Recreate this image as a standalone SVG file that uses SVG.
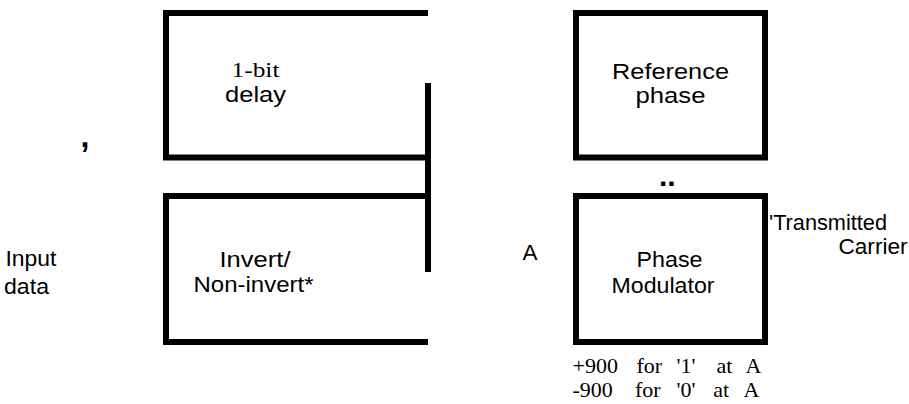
<svg xmlns="http://www.w3.org/2000/svg" width="909" height="404" viewBox="0 0 909 404">
<style>
.box{fill:none;stroke:#000;stroke-width:6;stroke-linejoin:miter;stroke-linecap:butt}
.wire{fill:none;stroke:#000;stroke-width:6;stroke-linecap:butt}
.sans{font-family:"Liberation Sans",Arial,sans-serif;font-size:22px;fill:#000}
.serif{font-family:"Liberation Serif","Times New Roman",serif;font-size:22px;fill:#000}
.mark{font-family:"Liberation Sans",Arial,sans-serif;font-weight:bold;fill:#000}
</style>
<rect width="909" height="404" fill="#fff"/>
<g id="delay">
<path class="box" d="M428,13 H166 V157.5 H431"/>
<text class="serif" x="231.5" y="77.3" font-size="23" textLength="48" lengthAdjust="spacingAndGlyphs">1-bit</text>
<text class="sans" x="225" y="101.7" textLength="61" lengthAdjust="spacingAndGlyphs">delay</text>
</g>
<g id="invert">
<path class="box" d="M431,196 H166 V342 H428"/>
<text class="sans" x="219.5" y="267.3" textLength="71" lengthAdjust="spacingAndGlyphs">Invert/</text>
<text class="sans" x="193.5" y="291.7" textLength="120" lengthAdjust="spacingAndGlyphs">Non-invert*</text>
</g>
<g id="reference">
<rect class="box" x="576" y="13" width="189" height="144.5"/>
<text class="sans" x="612" y="79" textLength="117" lengthAdjust="spacingAndGlyphs">Reference</text>
<text class="sans" x="635.5" y="103.3" textLength="70" lengthAdjust="spacingAndGlyphs">phase</text>
</g>
<g id="modulator">
<rect class="box" x="576" y="196" width="189" height="146"/>
<text class="sans" x="636.5" y="267.3" textLength="66" lengthAdjust="spacingAndGlyphs">Phase</text>
<text class="sans" x="611.5" y="292.7" textLength="103" lengthAdjust="spacingAndGlyphs">Modulator</text>
</g>
<g id="connectors">
<path class="wire" d="M428,83 V272"/>
</g>
<g id="labels">
<text class="mark" x="80.5" y="147" font-size="32">,</text>
<text class="mark" x="659" y="186" font-size="30">..</text>
<text class="sans" x="5.5" y="266" textLength="51" lengthAdjust="spacingAndGlyphs">Input</text>
<text class="sans" x="4" y="294" textLength="45" lengthAdjust="spacingAndGlyphs">data</text>
<text class="sans" x="522.5" y="260" textLength="15" lengthAdjust="spacingAndGlyphs">A</text>
<text class="sans" x="769" y="230" textLength="118" lengthAdjust="spacingAndGlyphs">'Transmitted</text>
<text class="sans" x="838.5" y="254" textLength="69" lengthAdjust="spacingAndGlyphs">Carrier</text>
<text class="serif" y="373"><tspan x="572.5">+900</tspan><tspan x="636.5">for</tspan><tspan x="676.5">'1'</tspan><tspan x="716.5">at</tspan><tspan x="745.5">A</tspan></text>
<text class="serif" y="396.7"><tspan x="572.5">-900</tspan><tspan x="635">for</tspan><tspan x="676.5">'0'</tspan><tspan x="713.3">at</tspan><tspan x="743.5">A</tspan></text>
</g>
</svg>
